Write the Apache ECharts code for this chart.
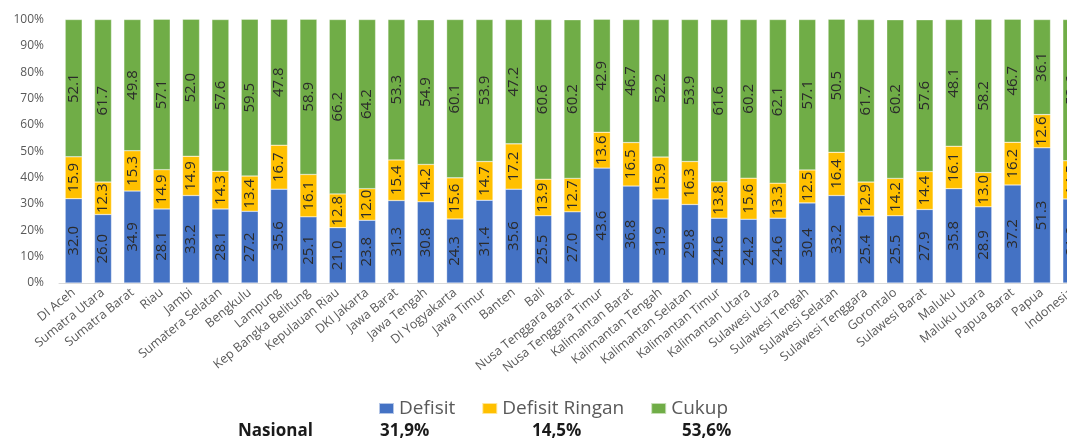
<!DOCTYPE html>
<html>
<head>
<meta charset="utf-8">
<script src="https://cdn.jsdelivr.net/npm/echarts@6/dist/echarts.min.js"></script>
<style>
  html, body { margin: 0; padding: 0; background: #fff; overflow: hidden; }
  #chart { width: 1090px; height: 438px; }
</style>
</head>
<body>
<div id="chart"></div>
<script>
// Provinces of Indonesia plus the national figure
const provinces = [
  'DI Aceh', 'Sumatra Utara', 'Sumatra Barat', 'Riau', 'Jambi', 'Sumatera Selatan',
  'Bengkulu', 'Lampung', 'Kep Bangka Belitung', 'Kepulauan Riau', 'DKI Jakarta',
  'Jawa Barat', 'Jawa Tengah', 'DI Yogyakarta', 'Jawa Timur', 'Banten', 'Bali',
  'Nusa Tenggara Barat', 'Nusa Tenggara Timur', 'Kalimantan Barat', 'Kalimantan Tengah',
  'Kalimantan Selatan', 'Kalimantan Timur', 'Kalimantan Utara', 'Sulawesi Utara',
  'Sulawesi Tengah', 'Sulawesi Selatan', 'Sulawesi Tenggara', 'Gorontalo',
  'Sulawesi Barat', 'Maluku', 'Maluku Utara', 'Papua Barat', 'Papua', 'Indonesia'
];

// Share of households (%) per category
const defisit = [
  32.0, 26.0, 34.9, 28.1, 33.2, 28.1, 27.2, 35.6, 25.1, 21.0, 23.8,
  31.3, 30.8, 24.3, 31.4, 35.6, 25.5, 27.0, 43.6, 36.8, 31.9,
  29.8, 24.6, 24.2, 24.6, 30.4, 33.2, 25.4, 25.5, 27.9, 35.8, 28.9, 37.2, 51.3, 31.9
];
const defisitRingan = [
  15.9, 12.3, 15.3, 14.9, 14.9, 14.3, 13.4, 16.7, 16.1, 12.8, 12.0,
  15.4, 14.2, 15.6, 14.7, 17.2, 13.9, 12.7, 13.6, 16.5, 15.9,
  16.3, 13.8, 15.6, 13.3, 12.5, 16.4, 12.9, 14.2, 14.4, 16.1, 13.0, 16.2, 12.6, 14.5
];
const cukup = [
  52.1, 61.7, 49.8, 57.1, 52.0, 57.6, 59.5, 47.8, 58.9, 66.2, 64.2,
  53.3, 54.9, 60.1, 53.9, 47.2, 60.6, 60.2, 42.9, 46.7, 52.2,
  53.9, 61.6, 60.2, 62.1, 57.1, 50.5, 61.7, 60.2, 57.6, 48.1, 58.2, 46.7, 36.1, 53.6
];

const seriesNames = ['Defisit', 'Defisit Ringan', 'Cukup'];
const nationalLabel = 'Nasional';
const nationalValues = ['31,9%', '14,5%', '53,6%'];

const colors = ['#4472C4', '#FFC000', '#70AD47'];
const FONT = '"Open Sans", "Liberation Sans", sans-serif';

function barSeries(name, data, color) {
  return {
    name: name,
    type: 'bar',
    stack: 'total',
    data: data,
    barWidth: 17,
    itemStyle: { color: color, borderColor: 'rgba(255,255,255,0.6)', borderWidth: 0.5 },
    label: {
      show: true,
      position: 'inside',
      rotate: 90,
      color: '#2b2b2b',
      fontFamily: FONT,
      fontSize: 15,
      formatter: p => p.value.toFixed(1)
    }
  };
}

const chart = echarts.init(document.getElementById('chart'), null, { renderer: 'canvas' });
chart.setOption({
  animation: false,
  backgroundColor: '#ffffff',
  textStyle: { fontFamily: FONT },
  grid: { left: 59, top: 19.5, width: 1027, height: 263.5, containLabel: false },
  legend: {
    data: seriesNames,
    left: 373,
    top: 394,
    itemWidth: 15,
    itemHeight: 11,
    itemGap: 26,
    icon: 'rect',
    textStyle: { fontFamily: FONT, fontSize: 19, color: '#595959' }
  },
  xAxis: {
    type: 'category',
    data: provinces,
    axisTick: { show: false },
    axisLine: { lineStyle: { color: '#d9d9d9' } },
    axisLabel: { interval: 0, rotate: 39, fontSize: 12.5, color: '#595959', margin: 8, fontFamily: FONT }
  },
  yAxis: {
    type: 'value',
    min: 0,
    max: 100,
    interval: 10,
    splitLine: { show: false },
    axisLine: { show: false },
    axisTick: { show: false },
    axisLabel: { formatter: '{value}%', fontSize: 12, color: '#595959', margin: 15, fontFamily: FONT }
  },
  series: [
    barSeries(seriesNames[0], defisit, colors[0]),
    barSeries(seriesNames[1], defisitRingan, colors[1]),
    barSeries(seriesNames[2], cukup, colors[2])
  ],
  graphic: [
    { type: 'text', x: 238, y: 431, style: { text: nationalLabel, font: 'bold 17px ' + FONT, fill: '#1a1a1a', verticalAlign: 'middle' } },
    { type: 'text', x: 380, y: 431, style: { text: nationalValues[0], font: 'bold 17px ' + FONT, fill: '#1a1a1a', verticalAlign: 'middle' } },
    { type: 'text', x: 532, y: 431, style: { text: nationalValues[1], font: 'bold 17px ' + FONT, fill: '#1a1a1a', verticalAlign: 'middle' } },
    { type: 'text', x: 682, y: 431, style: { text: nationalValues[2], font: 'bold 17px ' + FONT, fill: '#1a1a1a', verticalAlign: 'middle' } }
  ]
});
</script>
</body>
</html>
